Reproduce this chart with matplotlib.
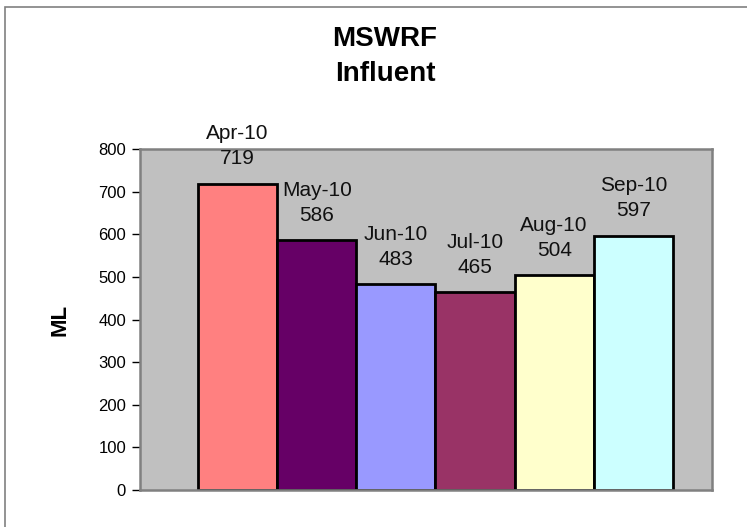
import matplotlib.pyplot as plt
from matplotlib.patches import Rectangle

# Monthly influent volume, MSWRF
months = ['Apr-10', 'May-10', 'Jun-10', 'Jul-10', 'Aug-10', 'Sep-10']
volumes = [719, 586, 483, 465, 504, 597]
bar_colors = ['#FF8080', '#660066', '#9999FF', '#993366', '#FFFFCC', '#CCFFFF']
y_ticks = [0, 100, 200, 300, 400, 500, 600, 700, 800]

plt.rcParams['font.family'] = ['Liberation Sans', 'DejaVu Sans']

W, H = 747, 527
fig = plt.figure(figsize=(W / 100, H / 100), dpi=100)
fig.patch.set_facecolor('white')

# chart frame (only left/top edges fall inside the image)
fig.patches.append(Rectangle((5 / W, -0.1), 1.2, 1 - 7 / H + 0.1,
                             transform=fig.transFigure, fill=False,
                             edgecolor='#808080', linewidth=1.2))

left, right, top, bottom = 140, 712, 149, 490
ax = fig.add_axes([left / W, 1 - bottom / H, (right - left) / W, (bottom - top) / H])
ax.set_facecolor('#C0C0C0')

x = list(range(len(months)))
ax.bar(x, volumes, width=1.0, color=bar_colors, edgecolor='black',
       linewidth=2, zorder=2)

for xi, m, v in zip(x, months, volumes):
    ax.annotate(f'{m}\n{v}', (xi, v), xytext=(0, 11), textcoords='offset points',
                ha='center', va='bottom', fontsize=15, linespacing=1.4,
                color='#111111', annotation_clip=False)

ax.set_xlim(-1.234, 5.994)
ax.set_ylim(0, 800)
ax.set_yticks(y_ticks)
ax.set_xticks([])
ax.tick_params(axis='y', direction='out', length=6, width=1, labelsize=12,
               pad=4, colors='black')
for side in ['left', 'top', 'right', 'bottom']:
    ax.spines[side].set_color('#808080')
    ax.spines[side].set_linewidth(1.8)

ax.set_ylabel('ML', fontsize=16, fontweight='bold', labelpad=20)

fig.text(385 / W, 1 - 39 / H, 'MSWRF', ha='center', va='center',
         fontsize=20, fontweight='bold')
fig.text(385 / W, 1 - 74 / H, 'Influent', ha='center', va='center',
         fontsize=20, fontweight='bold')

fig.savefig('out.png', dpi=100)
